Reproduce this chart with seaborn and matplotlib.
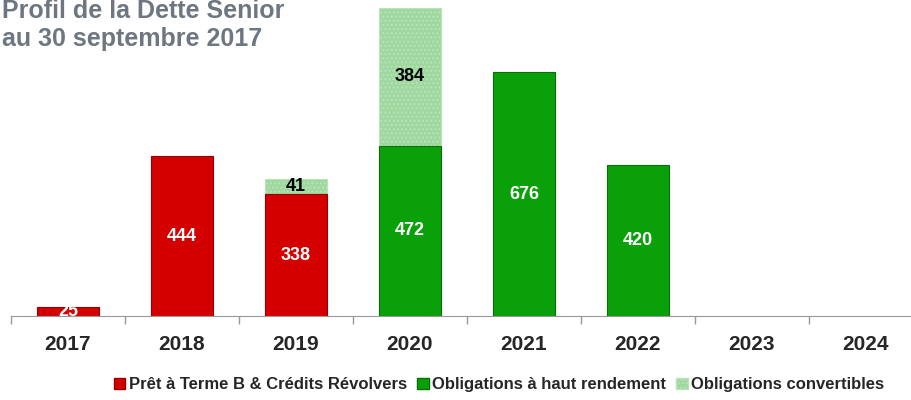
import numpy as np
import pandas as pd
import matplotlib
matplotlib.use("Agg")
import matplotlib.pyplot as plt
import seaborn as sns
from matplotlib.patches import Patch

# values (M€)
years = ["2017", "2018", "2019", "2020", "2021", "2022", "2023", "2024"]
pret = [25, 444, 338, 0, 0, 0, 0, 0]          # Prêt à Terme B & Crédits Révolvers
haut_rdt = [0, 0, 0, 472, 676, 420, 0, 0]     # Obligations à haut rendement
convert = [0, 0, 41, 384, 0, 0, 0, 0]         # Obligations convertibles

labels = ["Prêt à Terme B & Crédits Révolvers", "Obligations à haut rendement", "Obligations convertibles"]
red = "#d40000"
green = "#0aa00a"
light = "#9fd89f"
edges = {red: "#960000", green: "#067006", light: "#b8e4b8"}

sns.set_style("white")
plt.rcParams['font.family'] = ['Liberation Sans', 'DejaVu Sans']

base = np.array(pret) + np.array(haut_rdt)
total = base + np.array(convert)
df = pd.DataFrame({"year": years, "base": base, "total": total,
                   "type": ["pret" if p > 0 else "hy" for p in pret]})

fig = plt.figure(figsize=(9.12, 4), dpi=100)
ax = fig.add_axes([0.012, 0.21, 1.0, 0.79])

# convertibles stacked on top: draw the full total first, then the base over it
sns.barplot(data=df, x="year", y="total", color=light, width=0.55, ax=ax,
            linewidth=0.8, hatch="....", saturation=1)
sns.barplot(data=df, x="year", y="base", hue="type", dodge=False, width=0.55,
            palette={"pret": red, "hy": green}, ax=ax, legend=False,
            linewidth=0.8, saturation=1)
for p in ax.patches:
    if p.get_height() == 0:
        p.set_visible(False)
        continue
    fc = matplotlib.colors.to_hex(p.get_facecolor()[:3])
    for k, v in edges.items():
        if matplotlib.colors.to_hex(k) == fc:
            p.set_edgecolor(v)

for i in range(len(years)):
    if base[i] > 0:
        ax.text(i, base[i] / 2, str(base[i]), ha="center", va="center",
                color="white", fontsize=13, fontweight="bold")
    if convert[i] > 0:
        ax.text(i, base[i] + convert[i] / 2, str(convert[i]), ha="center", va="center",
                color="black", fontsize=13, fontweight="bold")

ax.set_ylim(0, 877)
ax.set_xlim(-0.5, len(years) - 0.5)
ax.set_xlabel("")
ax.set_ylabel("")
ax.set_yticks([])
for s in ["top", "right", "left"]:
    ax.spines[s].set_visible(False)
ax.spines["bottom"].set_color("#999999")
ax.set_xticks(np.arange(-0.5, len(years), 1), minor=True)
ax.tick_params(axis="x", which="minor", bottom=True, length=6, width=1,
               color="#999999", direction="out")
ax.tick_params(axis="x", which="major", bottom=False, length=0, labelsize=15, pad=14)
for t in ax.get_xticklabels():
    t.set_fontweight("bold")

fig.text(0.002, 0.972, "Profil de la Dette Senior", color="#6e7681", fontsize=18,
         fontweight="bold", va="center", ha="left")
fig.text(0.002, 0.903, "au 30 septembre 2017", color="#6e7681", fontsize=18,
         fontweight="bold", va="center", ha="left")

handles = [Patch(facecolor=red, edgecolor="#960000"),
           Patch(facecolor=green, edgecolor="#067006"),
           Patch(facecolor=light, edgecolor="#b8e4b8", hatch="....")]
leg = fig.legend(handles, labels, loc="center", bbox_to_anchor=(0.547, 0.038), ncol=3,
                 frameon=False, handlelength=0.7, handleheight=0.7, handletextpad=0.2,
                 columnspacing=0.6, prop={"weight": "bold", "size": 12})

fig.savefig("out.png", dpi=100)
